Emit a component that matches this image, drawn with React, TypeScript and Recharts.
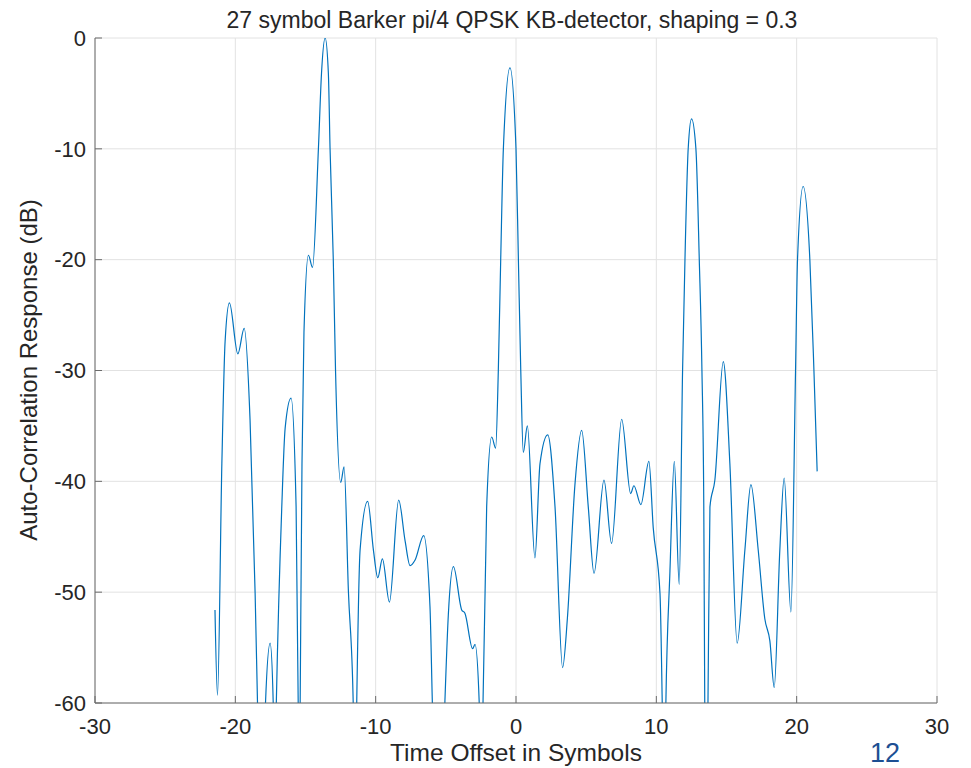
import {CartesianGrid, Line, LineChart, XAxis, YAxis} from 'recharts';

// time offset (symbols) and detector response (dB)
const timeOffsets = [
  -21.45, -21.27, -20.96, -20.73, -20.42, -19.82, -19.37, -18.95, -18.59, -18.42,
  -18.15, -17.85, -17.52, -17.3, -17.2, -17.08, -16.69, -16.45, -16.03, -15.67,
  -15.52, -15.45, -15.38, -15.25, -15.11, -14.79, -14.5, -14.08, -13.86, -13.6,
  -13.37, -13.25, -13.02, -12.86, -12.49, -12.25, -11.94, -11.6, -11.48, -11.35,
  -11.11, -10.57, -10.16, -9.85, -9.52, -9.02, -8.36, -7.9, -7.55, -7.19,
  -6.58, -6.13, -5.96, -5.5, -5.07, -4.82, -4.46, -3.87, -3.64, -3.09,
  -2.92, -2.62, -2.48, -2.35, -2.09, -1.73, -1.45, -1.26, -1.09, -0.9,
  -0.43, 0, 0.17, 0.34, 0.52, 0.81, 1.35, 1.71, 2.26, 2.78,
  3.32, 3.66, 4.2, 4.68, 5.15, 5.56, 6.27, 6.81, 7.53, 8.17,
  8.4, 8.9, 9.47, 9.78, 10.26, 10.42, 10.55, 10.68, 10.97, 11.28,
  11.63, 11.87, 12.04, 12.27, 12.51, 12.82, 13.06, 13.25, 13.38, 13.45,
  13.56, 13.68, 13.82, 14.17, 14.77, 15.24, 15.76, 16.31, 16.74, 17.26,
  17.73, 18.09, 18.4, 18.8, 19.11, 19.59, 19.92, 20.06, 20.46, 20.94,
  21.23, 21.46,
];

const responseDb = [
  -51.6, -59.3, -38.4, -27.4, -23.9, -28.5, -26.2, -34.5, -50.1, -60,
  -75, -60, -54.6, -60, -68, -60, -42.3, -35.2, -32.5, -42.3,
  -60, -72, -60, -38.4, -26.6, -19.6, -20.7, -10, -3.2, 0,
  -3.2, -10, -20, -30, -40.1, -38.7, -50, -60, -72, -60,
  -46.2, -41.8, -46.2, -48.7, -47.0, -50.9, -41.7, -45.4, -47.6, -47.1,
  -44.9, -51.3, -60, -78, -60, -52, -47.7, -51.6, -51.9, -55.1,
  -54.7, -60, -72, -60, -42.3, -36.0, -37.0, -30, -20, -10,
  -2.7, -10, -20, -30, -37.4, -35.0, -46.9, -38.4, -35.8, -42.3,
  -56.8, -52.4, -40.3, -35.4, -42.3, -48.3, -39.9, -45.6, -34.4, -41.1,
  -40.4, -42.1, -38.2, -44.2, -50.1, -60, -72, -60, -48.1, -38.2,
  -49.3, -30, -20, -10, -7.3, -10, -20, -30, -42, -60,
  -72, -60, -42.3, -39.9, -29.2, -38.4, -54.6, -46.2, -40.3, -46.2,
  -52.4, -54.4, -58.6, -46.2, -39.7, -51.8, -30, -20, -13.4, -20,
  -30, -39.1,
];

const xTicks = [-30, -20, -10, 0, 10, 20, 30];
const yTicks = [-60, -50, -40, -30, -20, -10, 0];

const chartTitle = '27 symbol Barker pi/4 QPSK KB-detector, shaping = 0.3';
const xLabel = 'Time Offset in Symbols';
const yLabel = 'Auto-Correlation Response (dB)';
const pageNumber = '12';

const data = timeOffsets.map((t, i) => ({t, db: responseDb[i]}));

const axisColor = '#6b6b6b';
const textColor = '#262626';
const tickStyle = {fill: textColor, fontSize: 22};

export default function App() {
  return (
    <div
      style={{
        position: 'absolute',
        left: 0,
        top: 0,
        width: 971,
        height: 768,
        background: '#fff',
        fontFamily: '"Liberation Sans", Arial, sans-serif',
        color: textColor,
      }}
    >
      <LineChart width={971} height={768} data={data} margin={{top: 38, right: 34, left: 35, bottom: 25}}>
        <CartesianGrid stroke="#e2e2e2" strokeWidth={1}/>
        <XAxis
          dataKey="t"
          type="number"
          domain={[-30, 30]}
          ticks={xTicks}
          allowDataOverflow
          height={40}
          stroke={axisColor}
          tickSize={-7}
          tickMargin={22}
          tick={tickStyle}
        />
        <XAxis
          xAxisId="top"
          dataKey="t"
          type="number"
          orientation="top"
          domain={[-30, 30]}
          ticks={xTicks}
          allowDataOverflow
          height={0}
          stroke={axisColor}
          tickSize={-7}
          tick={false}
        />
        <YAxis
          type="number"
          domain={[-60, 0]}
          ticks={yTicks}
          allowDataOverflow
          width={60}
          stroke={axisColor}
          tickSize={-7}
          tickMargin={16}
          tick={tickStyle}
        />
        <YAxis
          yAxisId="right"
          orientation="right"
          type="number"
          domain={[-60, 0]}
          ticks={yTicks}
          allowDataOverflow
          width={0}
          stroke={axisColor}
          tickSize={-7}
          tick={false}
        />
        <Line
          type="monotone"
          dataKey="db"
          stroke="#0072BD"
          strokeWidth={1.2}
          dot={false}
          isAnimationActive={false}
        />
      </LineChart>

      <div style={{position: 'absolute', left: 0, width: 1024, top: 9, fontSize: 23, lineHeight: '23px', textAlign: 'center', whiteSpace: 'nowrap'}}>
        {chartTitle}
      </div>
      <div style={{position: 'absolute', left: 266, width: 500, top: 740, fontSize: 24.5, lineHeight: '25px', textAlign: 'center', whiteSpace: 'nowrap'}}>
        {xLabel}
      </div>
      <div
        style={{
          position: 'absolute',
          left: 29 - 250,
          top: 370 - 12,
          width: 500,
          fontSize: 24,
          lineHeight: '24px',
          textAlign: 'center',
          whiteSpace: 'nowrap',
          transform: 'rotate(-90deg)',
        }}
      >
        {yLabel}
      </div>
      <div style={{position: 'absolute', left: 870, top: 740, fontSize: 27, lineHeight: '27px', color: '#1d4f93'}}>
        {pageNumber}
      </div>
    </div>
  );
}
